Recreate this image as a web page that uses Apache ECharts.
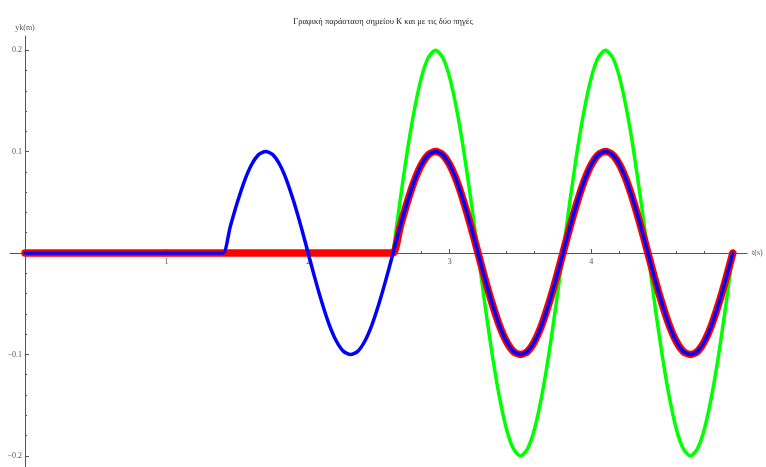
<!DOCTYPE html>
<html>
<head>
<meta charset="utf-8">
<script src="https://cdn.jsdelivr.net/npm/echarts@6/dist/echarts.min.js"></script>
<style>
  html, body { margin: 0; padding: 0; background: #fff; }
  #chart { width: 766px; height: 467px; }
</style>
</head>
<body>
<div id="chart"></div>
<script>
// Displacement of point K (m) against time (s) for each source and for both together.
const titleText = 'Γραφική παράσταση σημείου Κ και με τις δύο πηγές';
const tStep = 0.05;

// Wave from source 1: at rest until it reaches K, then oscillates.
const blueStart = 1.4;
const blueValues = [
  0, 0.026, 0.05, 0.071, 0.087, 0.097, 0.1, 0.097, 0.087, 0.071, 0.05, 0.026,
  0, -0.026, -0.05, -0.071, -0.087, -0.097, -0.1, -0.097, -0.087, -0.071, -0.05, -0.026,
  0, 0.026, 0.05, 0.071, 0.087, 0.097, 0.1, 0.097, 0.087, 0.071, 0.05, 0.026,
  0, -0.026, -0.05, -0.071, -0.087, -0.097, -0.1, -0.097, -0.087, -0.071, -0.05, -0.026,
  0, 0.026, 0.05, 0.071, 0.087, 0.097, 0.1, 0.097, 0.087, 0.071, 0.05, 0.026,
  0, -0.026, -0.05, -0.071, -0.087, -0.097, -0.1, -0.097, -0.087, -0.071, -0.05, -0.026,
  0
];

// Wave from source 2.
const redStart = 2.6;
const redValues = [
  0, 0.026, 0.05, 0.071, 0.087, 0.097, 0.1, 0.097, 0.087, 0.071, 0.05, 0.026,
  0, -0.026, -0.05, -0.071, -0.087, -0.097, -0.1, -0.097, -0.087, -0.071, -0.05, -0.026,
  0, 0.026, 0.05, 0.071, 0.087, 0.097, 0.1, 0.097, 0.087, 0.071, 0.05, 0.026,
  0, -0.026, -0.05, -0.071, -0.087, -0.097, -0.1, -0.097, -0.087, -0.071, -0.05, -0.026,
  0
];

// Both waves together.
const greenStart = 2.6;
const greenValues = [
  0, 0.052, 0.1, 0.141, 0.173, 0.193, 0.2, 0.193, 0.173, 0.141, 0.1, 0.052,
  0, -0.052, -0.1, -0.141, -0.173, -0.193, -0.2, -0.193, -0.173, -0.141, -0.1, -0.052,
  0, 0.052, 0.1, 0.141, 0.173, 0.193, 0.2, 0.193, 0.173, 0.141, 0.1, 0.052,
  0, -0.052, -0.1, -0.141, -0.173, -0.193, -0.2, -0.193, -0.173, -0.141, -0.1, -0.052,
  0
];

const xTickLabels = [1, 2, 3, 4];
const xMajorTicks = [1, 2, 3, 4, 5];
const yTickLabels = [-0.2, -0.1, 0.1, 0.2];

const xRange = [-0.106, 5.1];
const yRange = [-0.211, 0.214];

function round3(v) { return Math.round(v * 1000) / 1000; }

// Pairs of [t, y]; the rest position runs from t = 0 up to the start when withRest is set.
function buildSeries(start, values, withRest) {
  const pts = [];
  if (withRest) {
    pts.push([0, 0]);
    pts.push([round3(start - tStep), 0]);
  }
  values.forEach((v, i) => pts.push([round3(start + i * tStep), v]));
  return pts;
}

// Minor tick positions: every step between from and to, leaving out zero and the majors.
function minorValues(from, to, step, majors) {
  const out = [];
  for (let v = from; v <= to + 1e-9; v += step) {
    const r = round3(v);
    if (r !== 0 && !majors.some(m => Math.abs(m - r) < 1e-9)) out.push(r);
  }
  return out;
}
const xMinor = minorValues(0, 5, 0.2, xMajorTicks);
const yMinor = minorValues(-0.2, 0.2, 0.02, yTickLabels);

const serifFont = '"Liberation Serif", "DejaVu Serif", serif';
const axisColor = '#555';
const labelStyle = { fontFamily: serifFont, fontSize: 8, color: '#555' };

// Axis 0: line and major ticks through the origin; axis 1: minor ticks; axis 2: tick labels.
function xAxes(labelOffset) {
  return [
    {
      type: 'value', min: xRange[0], max: xRange[1], position: 'bottom',
      name: 't(s)', nameLocation: 'end', nameGap: 5, nameTextStyle: labelStyle,
      axisLine: { show: true, onZero: true, onZeroAxisIndex: 0, lineStyle: { color: axisColor, width: 1 } },
      axisTick: { show: true, inside: true, length: 4, customValues: xMajorTicks, lineStyle: { color: axisColor } },
      axisLabel: { show: false }, splitLine: { show: false }
    },
    {
      type: 'value', min: xRange[0], max: xRange[1], position: 'bottom',
      axisLine: { show: false, onZero: true, onZeroAxisIndex: 0 },
      axisTick: { show: true, inside: true, length: 2, customValues: xMinor, lineStyle: { color: axisColor } },
      axisLabel: { show: false }, splitLine: { show: false }
    },
    {
      type: 'value', min: xRange[0], max: xRange[1], position: 'bottom', offset: labelOffset,
      axisLine: { show: false, onZero: false }, axisTick: { show: false },
      axisLabel: { show: true, customValues: xTickLabels, margin: 5, ...labelStyle, formatter: v => String(v) },
      splitLine: { show: false }
    }
  ];
}

function yAxes(labelOffset) {
  return [
    {
      type: 'value', min: yRange[0], max: yRange[1], position: 'left',
      name: 'yk(m)', nameLocation: 'end', nameGap: 4,
      nameTextStyle: { ...labelStyle, align: 'center' },
      axisLine: { show: true, onZero: true, onZeroAxisIndex: 0, lineStyle: { color: axisColor, width: 1 } },
      axisTick: { show: true, inside: true, length: 4, customValues: yTickLabels, lineStyle: { color: axisColor } },
      axisLabel: { show: false }, splitLine: { show: false }
    },
    {
      type: 'value', min: yRange[0], max: yRange[1], position: 'left',
      axisLine: { show: false, onZero: true, onZeroAxisIndex: 0 },
      axisTick: { show: true, inside: true, length: 2, customValues: yMinor, lineStyle: { color: axisColor } },
      axisLabel: { show: false }, splitLine: { show: false }
    },
    {
      type: 'value', min: yRange[0], max: yRange[1], position: 'left', offset: labelOffset,
      axisLine: { show: false, onZero: false }, axisTick: { show: false },
      axisLabel: {
        show: true, customValues: yTickLabels, margin: 3, ...labelStyle,
        formatter: v => (v < 0 ? '\u2212' : '') + Math.abs(v).toFixed(1)
      },
      splitLine: { show: false }
    }
  ];
}

const chart = echarts.init(document.getElementById('chart'), null, { renderer: 'canvas' });

chart.setOption({
  animation: false,
  backgroundColor: '#fff',
  title: {
    text: titleText,
    left: 'center',
    top: 12,
    textStyle: { fontFamily: serifFont, fontSize: 8.5, fontWeight: 'normal', color: '#222' }
  },
  grid: { left: 10, right: 19, top: 36, bottom: 0, containLabel: false, outerBoundsMode: 'none' },
  xAxis: xAxes(0),
  yAxis: yAxes(0),
  series: [
    {
      name: 'Δύο πηγές',
      type: 'line', xAxisIndex: 0, yAxisIndex: 0,
      data: buildSeries(greenStart, greenValues, false),
      showSymbol: false, smooth: 0.25, z: 2,
      lineStyle: { color: '#00ff00', width: 3.5, cap: 'round', join: 'round' }
    },
    {
      name: 'Πηγή 2',
      type: 'line', xAxisIndex: 0, yAxisIndex: 0,
      data: buildSeries(redStart, redValues, true),
      showSymbol: false, smooth: 0.25, z: 3,
      lineStyle: { color: '#ff0000', width: 7.5, cap: 'round', join: 'round' }
    },
    {
      name: 'Πηγή 1',
      type: 'line', xAxisIndex: 0, yAxisIndex: 0,
      data: buildSeries(blueStart, blueValues, true),
      showSymbol: false, smooth: 0.25, z: 4,
      lineStyle: { color: '#0000ff', width: 3.5, cap: 'round', join: 'round' }
    }
  ]
});

// Move the tick-label axes from the grid edges onto the axes through the origin.
const zeroX = chart.convertToPixel({ xAxisIndex: 0 }, 0);
const zeroY = chart.convertToPixel({ yAxisIndex: 0 }, 0);
const leftEdge = chart.convertToPixel({ xAxisIndex: 0 }, xRange[0]);
const bottomEdge = chart.convertToPixel({ yAxisIndex: 0 }, yRange[0]);
chart.setOption({
  xAxis: xAxes(zeroY - bottomEdge),
  yAxis: yAxes(leftEdge - zeroX)
});
</script>
</body>
</html>
